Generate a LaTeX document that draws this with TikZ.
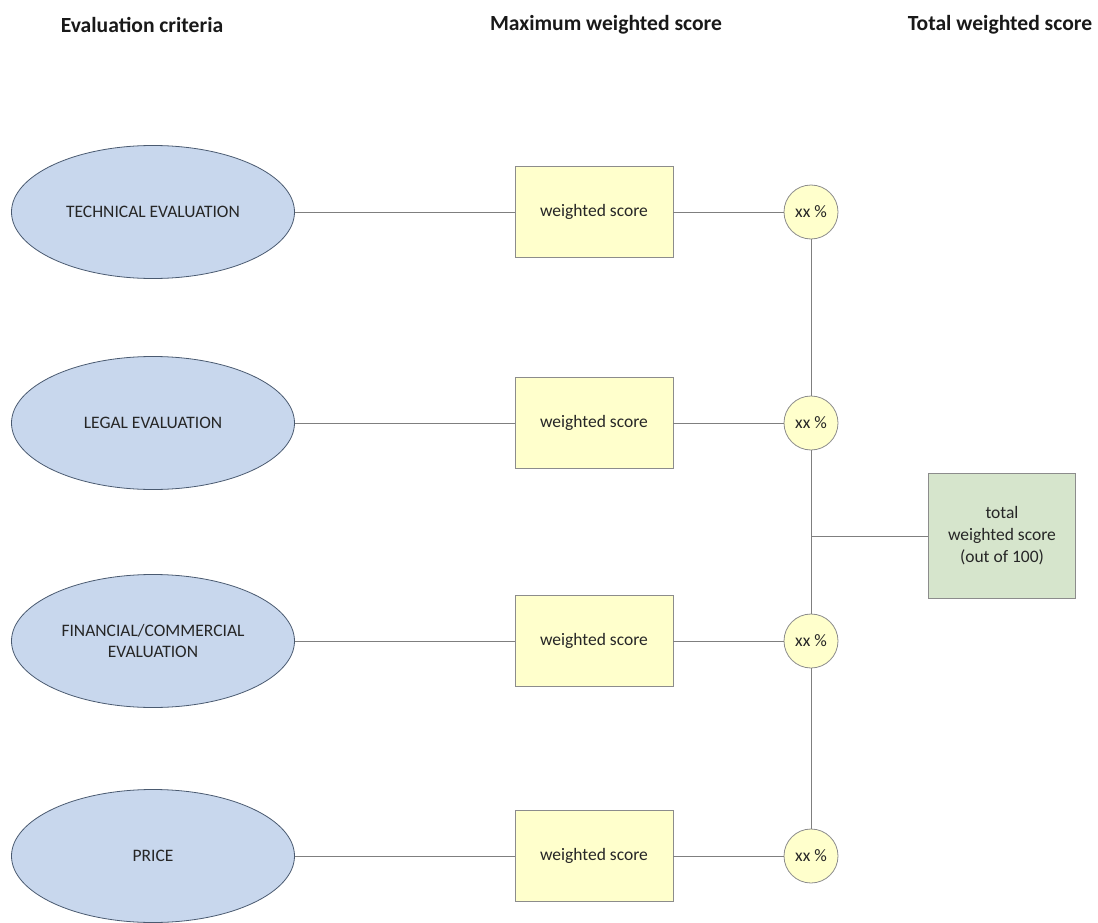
\documentclass[tikz,border=0pt]{standalone}
\usepackage{fontspec}
\setmainfont{Carlito}
\usetikzlibrary{shapes.geometric}
\definecolor{critblue}{HTML}{C8D7ED}
\definecolor{critedge}{HTML}{4A5A70}
\definecolor{scoreyel}{HTML}{FFFFCC}
\definecolor{totgreen}{HTML}{D6E5CC}
\definecolor{edgegray}{HTML}{8C8C8C}
\definecolor{linegray}{HTML}{7F7F7F}
\tikzset{
	head/.style={font=\fontsize{21.6}{24}\selectfont\bfseries, text=black!90},
	crit/.style={ellipse, draw=critedge, fill=critblue, line width=0.8pt, minimum width=283pt, minimum height=133pt, align=center, font=\fontsize{17.5}{21}\selectfont, text=black!85},
	wbox/.style={rectangle, draw=edgegray, fill=scoreyel, line width=0.8pt, minimum width=158pt, minimum height=91pt, font=\fontsize{17.5}{20}\selectfont, text=black!85},
	pct/.style={circle, draw=edgegray, fill=scoreyel, line width=0.8pt, minimum size=54pt, inner sep=0pt, font=\fontsize{17.5}{20}\selectfont, text=black!85},
	totbox/.style={rectangle, draw=edgegray, fill=totgreen, line width=0.8pt, minimum width=147pt, minimum height=125pt, align=center, font=\fontsize{17.5}{22}\selectfont, text=black!85},
	link/.style={draw=linegray, line width=1pt}
}
\begin{document}
\begin{tikzpicture}[x=1pt,y=-1pt]
		\useasboundingbox (0,0) rectangle (1098,923);
		% column headings
		\node[head] (hcrit) at (142,25) {Evaluation criteria};
		\node[head] (hmax) at (606,25) {Maximum weighted score};
		\node[head] (htot) at (1000,25) {Total weighted score};
		% criteria
		\node[crit] (tech) at (153,212) {TECHNICAL EVALUATION};
		\node[crit] (legal) at (153,423) {LEGAL EVALUATION};
		\node[crit] (fin) at (153,641) {FINANCIAL/COMMERCIAL\\EVALUATION};
		\node[crit] (price) at (153,856) {PRICE};
		% weighted scores
		\node[wbox] (techw) at (594,212) {weighted score};
		\node[wbox] (legalw) at (594,423) {weighted score};
		\node[wbox] (finw) at (594,641) {weighted score};
		\node[wbox] (pricew) at (594,856) {weighted score};
		% percentages
		\node[pct] (techp) at (811,212) {xx \%};
		\node[pct] (legalp) at (811,423) {xx \%};
		\node[pct] (finp) at (811,641) {xx \%};
		\node[pct] (pricep) at (811,856) {xx \%};
		% total
		\node[totbox] (total) at (1002,536) {total\\weighted score\\(out of 100)};
		\coordinate (join) at (811,536);
		% links
		\draw[link] (tech) -- (techw) -- (techp);
		\draw[link] (legal) -- (legalw) -- (legalp);
		\draw[link] (fin) -- (finw) -- (finp);
		\draw[link] (price) -- (pricew) -- (pricep);
		\draw[link] (techp) -- (legalp) -- (finp) -- (pricep);
		\draw[link] (join) -- (total);
\end{tikzpicture}
\end{document}
